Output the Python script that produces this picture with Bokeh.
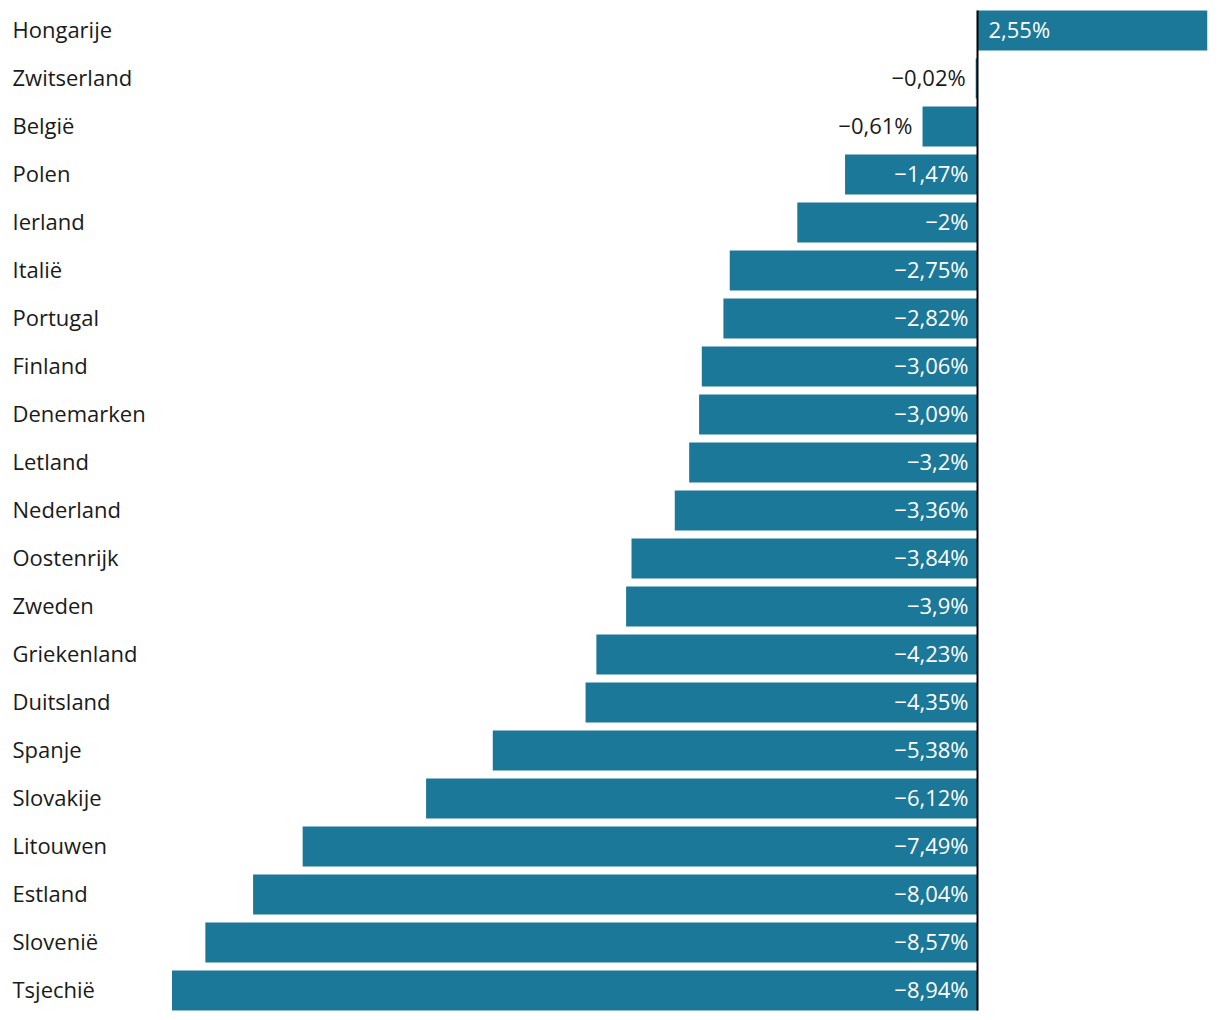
from bokeh.plotting import figure
from bokeh.models import Range1d, ColumnDataSource
from bokeh.core.properties import value
from bokeh.embed import file_html
from bokeh.resources import INLINE

countries = ["Hongarije", "Zwitserland", "België", "Polen", "Ierland", "Italië",
             "Portugal", "Finland", "Denemarken", "Letland", "Nederland",
             "Oostenrijk", "Zweden", "Griekenland", "Duitsland", "Spanje",
             "Slovakije", "Litouwen", "Estland", "Slovenië", "Tsjechië"]
values = [2.55, -0.02, -0.61, -1.47, -2, -2.75, -2.82, -3.06, -3.09, -3.2,
          -3.36, -3.84, -3.9, -4.23, -4.35, -5.38, -6.12, -7.49, -8.04,
          -8.57, -8.94]

def fmt(v):
    s = ("%g" % abs(v)).replace(".", ",")
    return ("\u2212" if v < 0 else "") + s + "%"

FONT = value("Open Sans")
FS = "22px"
BAR = "#1c7898"
YOFF = -2

W, H = 1212, 1012
pxu = 90.1
zero_px = 977
pitch = 48
first = 30

p = figure(width=W, height=H, output_backend="svg", toolbar_location=None,
           x_range=Range1d(-zero_px / pxu, (W - zero_px) / pxu),
           y_range=Range1d((H - first) / pitch, -first / pitch),
           min_border=0, outline_line_color=None)
p.axis.visible = False
p.grid.visible = False
p.background_fill_color = "white"
p.border_fill_color = "white"

ys = list(range(len(countries)))
src = ColumnDataSource(dict(y=ys, v=values, c=countries,
                            lab=[fmt(v) for v in values]))
p.hbar(y="y", left=0, right="v", height=40 / 48, source=src,
       fill_color=BAR, line_color=None)

# category labels at left
p.text(x=[p.x_range.start] * len(ys), y=ys, text=countries, x_offset=12,
       y_offset=YOFF, text_align="left", text_baseline="middle",
       text_font=FONT, text_font_size=FS, text_color="#1a1a1a")

# value labels
inside_neg = [(i, v) for i, v in enumerate(values) if v < -1.0]
pos = [(i, v) for i, v in enumerate(values) if v > 0]
outside = [(i, v) for i, v in enumerate(values) if -1.0 <= v < 0]

p.text(x=[0] * len(inside_neg), y=[i for i, _ in inside_neg],
       text=[fmt(v) for _, v in inside_neg], x_offset=-9, y_offset=YOFF,
       text_align="right", text_baseline="middle", text_font=FONT,
       text_font_size=FS, text_color="white")
p.text(x=[0] * len(pos), y=[i for i, _ in pos],
       text=[fmt(v) for _, v in pos], x_offset=11, y_offset=YOFF,
       text_align="left", text_baseline="middle", text_font=FONT,
       text_font_size=FS, text_color="white")
p.text(x=[v for _, v in outside], y=[i for i, _ in outside],
       text=[fmt(v) for _, v in outside], x_offset=-10, y_offset=YOFF,
       text_align="right", text_baseline="middle", text_font=FONT,
       text_font_size=FS, text_color="#1a1a1a")

# zero line
p.segment(x0=[0], x1=[0], y0=[-20 / 48], y1=[len(ys) - 1 + 20 / 48],
          line_color="black", line_width=2)

open("out.html", "w").write(file_html(p, INLINE))
